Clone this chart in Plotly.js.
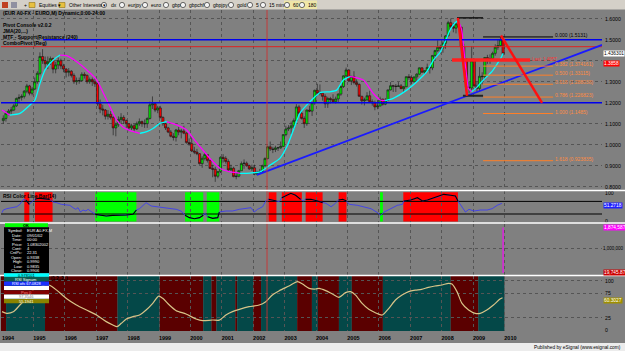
<!DOCTYPE html>
<html>
<head>
<meta charset="utf-8">
<script src="https://cdn.plot.ly/plotly-3.0.1.min.js"></script>
<style>html,body{margin:0;padding:0;background:#808080;overflow:hidden}</style>
</head>
<body>
<div id="chart" style="width:625px;height:351px"></div>
<script>
// ---------------- DATA ----------------
const years = [1994,1995,1996,1997,1998,1999,2000,2001,2002,2003,2004,2005,2006,2007,2008,2009,2010];
const firstYear = 1994; // monthly candles Jan 1994 .. Dec 2009

const openP = [
 1.115,1.125,1.150,1.160,1.165,1.185,1.220,1.225,1.230,1.255,1.280,1.245,
 1.265,1.300,1.340,1.420,1.400,1.385,1.395,1.410,1.360,1.380,1.400,1.375,
 1.360,1.345,1.350,1.330,1.300,1.305,1.305,1.335,1.330,1.300,1.310,1.300,
 1.290,1.195,1.170,1.165,1.135,1.145,1.130,1.080,1.095,1.120,1.130,1.115,
 1.100,1.080,1.090,1.075,1.100,1.110,1.100,1.100,1.125,1.190,1.195,1.165,
 1.175,1.130,1.100,1.080,1.060,1.040,1.035,1.070,1.060,1.065,1.055,1.010,
 1.005,0.970,0.965,0.957,0.910,0.935,0.953,0.925,0.887,0.883,0.850,0.872,
 0.940,0.935,0.920,0.880,0.888,0.848,0.850,0.876,0.910,0.912,0.900,0.885,
 0.890,0.860,0.868,0.872,0.900,0.934,0.990,0.980,0.977,0.985,0.985,0.992,
 1.048,1.075,1.080,1.090,1.115,1.180,1.150,1.125,1.100,1.165,1.160,1.200,
 1.259,1.245,1.245,1.230,1.195,1.220,1.215,1.205,1.218,1.241,1.277,1.328,
 1.356,1.304,1.325,1.296,1.287,1.231,1.209,1.213,1.233,1.205,1.199,1.180,
 1.184,1.217,1.193,1.211,1.261,1.281,1.279,1.277,1.280,1.267,1.276,1.324,
 1.320,1.300,1.323,1.336,1.366,1.345,1.353,1.368,1.366,1.425,1.448,1.464,
 1.460,1.483,1.518,1.581,1.562,1.555,1.575,1.560,1.467,1.408,1.274,1.270,
 1.400,1.280,1.268,1.326,1.324,1.415,1.403,1.410,1.435,1.464,1.472,1.500];
const closeP = [
 1.125,1.150,1.160,1.165,1.185,1.220,1.225,1.230,1.255,1.280,1.245,1.265,
 1.300,1.340,1.420,1.400,1.385,1.395,1.410,1.360,1.380,1.400,1.375,1.360,
 1.345,1.350,1.330,1.300,1.305,1.305,1.335,1.330,1.300,1.310,1.300,1.290,
 1.195,1.170,1.165,1.135,1.145,1.130,1.080,1.095,1.120,1.130,1.115,1.100,
 1.080,1.090,1.075,1.100,1.110,1.100,1.100,1.125,1.190,1.195,1.165,1.175,
 1.130,1.100,1.080,1.060,1.040,1.035,1.070,1.060,1.065,1.055,1.010,1.005,
 0.970,0.965,0.957,0.910,0.935,0.953,0.925,0.887,0.883,0.850,0.872,0.940,
 0.935,0.920,0.880,0.888,0.848,0.850,0.876,0.910,0.912,0.900,0.885,0.890,
 0.860,0.868,0.872,0.900,0.934,0.990,0.980,0.977,0.985,0.985,0.992,1.048,
 1.075,1.080,1.090,1.115,1.180,1.150,1.125,1.100,1.165,1.160,1.200,1.259,
 1.245,1.245,1.230,1.195,1.220,1.215,1.205,1.218,1.241,1.277,1.328,1.356,
 1.304,1.325,1.296,1.287,1.231,1.209,1.213,1.233,1.205,1.199,1.180,1.184,
 1.217,1.193,1.211,1.261,1.281,1.279,1.277,1.280,1.267,1.276,1.324,1.320,
 1.300,1.323,1.336,1.366,1.345,1.353,1.368,1.366,1.425,1.448,1.464,1.460,
 1.483,1.518,1.581,1.562,1.555,1.575,1.560,1.467,1.408,1.274,1.270,1.400,
 1.280,1.268,1.326,1.324,1.415,1.403,1.410,1.435,1.464,1.472,1.500,1.433];
const highP = [
 1.140,1.160,1.170,1.180,1.195,1.225,1.240,1.240,1.260,1.290,1.285,1.275,
 1.320,1.350,1.440,1.455,1.420,1.420,1.420,1.415,1.395,1.415,1.410,1.385,
 1.365,1.365,1.355,1.340,1.320,1.320,1.345,1.345,1.335,1.320,1.320,1.315,
 1.295,1.215,1.190,1.170,1.165,1.160,1.135,1.105,1.135,1.150,1.140,1.120,
 1.100,1.100,1.100,1.110,1.125,1.115,1.120,1.130,1.205,1.230,1.200,1.185,
 1.185,1.135,1.105,1.085,1.070,1.055,1.075,1.085,1.075,1.090,1.060,1.030,
 1.035,0.990,0.980,0.960,0.945,0.965,0.955,0.930,0.905,0.895,0.875,0.945,
 0.955,0.945,0.930,0.905,0.895,0.870,0.880,0.920,0.930,0.920,0.905,0.905,
 0.905,0.875,0.885,0.905,0.940,0.995,1.015,0.990,0.995,0.990,1.015,1.050,
 1.090,1.093,1.110,1.125,1.193,1.190,1.160,1.135,1.168,1.185,1.205,1.262,
 1.290,1.287,1.245,1.240,1.228,1.228,1.240,1.229,1.245,1.283,1.330,1.367,
 1.359,1.328,1.350,1.311,1.292,1.231,1.224,1.250,1.257,1.216,1.210,1.212,
 1.229,1.219,1.222,1.262,1.298,1.285,1.289,1.298,1.289,1.280,1.325,1.336,
 1.330,1.323,1.340,1.368,1.368,1.354,1.386,1.375,1.427,1.452,1.497,1.476,
 1.492,1.522,1.590,1.601,1.580,1.585,1.604,1.561,1.480,1.410,1.300,1.470,
 1.410,1.300,1.370,1.345,1.418,1.428,1.430,1.443,1.478,1.503,1.514,1.515];
const lowP = [
 1.100,1.110,1.140,1.145,1.160,1.180,1.200,1.210,1.220,1.245,1.235,1.235,
 1.260,1.290,1.330,1.385,1.360,1.360,1.380,1.340,1.340,1.360,1.360,1.345,
 1.320,1.325,1.320,1.290,1.285,1.290,1.300,1.315,1.290,1.290,1.280,1.275,
 1.185,1.150,1.140,1.120,1.120,1.120,1.045,1.040,1.085,1.100,1.100,1.080,
 1.065,1.070,1.060,1.070,1.090,1.085,1.080,1.080,1.120,1.170,1.155,1.150,
 1.125,1.090,1.070,1.055,1.035,1.020,1.015,1.045,1.030,1.050,1.005,0.995,
 0.965,0.955,0.950,0.905,0.890,0.925,0.915,0.885,0.845,0.823,0.840,0.865,
 0.915,0.910,0.875,0.875,0.845,0.835,0.845,0.875,0.885,0.895,0.880,0.875,
 0.855,0.855,0.860,0.870,0.895,0.930,0.970,0.960,0.965,0.970,0.980,0.990,
 1.040,1.065,1.050,1.075,1.115,1.140,1.120,1.080,1.090,1.155,1.137,1.190,
 1.236,1.235,1.210,1.175,1.175,1.196,1.198,1.196,1.203,1.233,1.270,1.318,
 1.298,1.284,1.287,1.277,1.228,1.191,1.187,1.210,1.200,1.186,1.164,1.169,
 1.183,1.186,1.188,1.207,1.258,1.251,1.251,1.276,1.265,1.248,1.274,1.309,
 1.288,1.296,1.304,1.333,1.343,1.332,1.349,1.339,1.355,1.404,1.441,1.434,
 1.438,1.457,1.516,1.555,1.535,1.530,1.550,1.464,1.390,1.233,1.245,1.260,
 1.277,1.252,1.255,1.288,1.310,1.385,1.385,1.400,1.424,1.452,1.468,1.426];

// JMA line, decimal years / price
const jmaT = [1994.00,1994.25,1994.57,1994.89,1995.05,1995.21,1995.37,1995.53,1995.69,1995.85,1996.06,1996.38,1996.70,1997.02,1997.23,1997.44,1997.65,1997.86,1998.08,1998.39,1998.61,1998.82,1999.03,1999.25,1999.56,1999.88,2000.09,2000.31,2000.62,2000.94,2001.26,2001.47,2001.58,2001.90,2002.22,2002.54,2002.85,2003.07,2003.28,2003.49,2003.81,2004.13,2004.45,2004.66,2004.87,2005.08,2005.24,2005.51,2005.82,2006.04,2006.20,2006.46,2006.89,2007.21,2007.53,2007.74,2007.95,2008.11,2008.27,2008.43,2008.53,2008.64,2008.69,2008.75,2008.80,2008.85,2008.96,2009.12,2009.28,2009.44,2009.60,2009.75,2009.91,2009.96];
const jmaV = [1.165,1.141,1.149,1.189,1.213,1.292,1.356,1.388,1.411,1.427,1.424,1.395,1.356,1.308,1.245,1.181,1.118,1.083,1.067,1.054,1.062,1.078,1.102,1.110,1.094,1.070,1.030,0.990,0.935,0.888,0.871,0.867,0.863,0.865,0.871,0.903,0.935,0.990,1.070,1.150,1.205,1.248,1.252,1.260,1.308,1.324,1.321,1.308,1.245,1.213,1.210,1.221,1.260,1.300,1.348,1.403,1.440,1.490,1.546,1.581,1.591,1.546,1.483,1.388,1.324,1.269,1.252,1.273,1.300,1.324,1.348,1.380,1.419,1.435];

// Price-panel drawing objects
const blueLevels = [1.5, 1.2];
const blueLevelStart = [1995.31, 1993.968];
const redLevel = 1.4667;
const cursorT = 2002.44;
const trendT = [2002.12, 2013.11];
const trendP = [0.856, 1.475];
const fibRatio = [0, 0.382, 0.5, 0.618, 0.786, 1.0, 1.618];
const fibPrice = [1.5131, 1.374161, 1.33115, 1.288038, 1.226823, 1.1485, 0.923835];
const fibT = [2009.32, 2011.55];
const swingHigh = 1.6038, swingLow = 1.2330;
const swingHighT = [2008.49, 2009.32], swingLowT = [2008.68, 2009.32];
const zigT = [2008.52, 2008.81, 2009.89, 2011.20];
const zigP = [1.6038, 1.2330, 1.5200, 1.1990];
const targetLevel = 1.4030, targetT = [2008.33, 2010.82];
const lastPrice = 1.436301, pivotPrice = 1.3858;

// RSI
const rsiT = [1994.00,1994.04,1994.15,1994.31,1994.47,1994.57,1994.68,1994.76,1994.87,1994.94,1995.05,1995.15,1995.31,1995.52,1995.63,1995.74,1995.89,1996.05,1996.16,1996.26,1996.35,1996.42,1996.50,1996.58,1996.67,1996.74,1996.85,1996.97,1997.11,1997.32,1997.53,1997.75,1997.96,1998.17,1998.28,1998.38,1998.59,1998.75,1998.91,1999.12,1999.33,1999.55,1999.70,1999.83,1999.97,2000.13,2000.29,2000.41,2000.47,2000.55,2000.71,2000.87,2000.92,2001.13,2001.34,2001.56,2001.77,2001.93,2002.03,2002.14,2002.30,2002.40,2002.49,2002.61,2002.74,2002.83,2002.91,2003.04,2003.20,2003.35,2003.51,2003.59,2003.67,2003.84,2004.05,2004.21,2004.32,2004.48,2004.58,2004.72,2004.85,2004.97,2005.06,2005.32,2005.53,2005.75,2005.96,2006.06,2006.17,2006.38,2006.59,2006.75,2006.80,2007.02,2007.23,2007.39,2007.55,2007.76,2007.92,2008.07,2008.29,2008.44,2008.52,2008.66,2008.76,2008.87,2009.03,2009.24,2009.45,2009.61,2009.77,2009.92];
const rsiV = [29.8,39.3,44,47.6,51,59.5,77.4,75,59.5,67.9,77.4,81,79.8,77.4,67.9,65.5,59.5,56,56,47.6,41.7,47.6,32,39.3,35.7,41.7,32,23.8,21.4,17.9,20.2,20.2,21.4,23.8,39.3,44,65.5,53.6,51,47.6,44,41.7,35.7,20.2,12,8.3,12,20.2,27.4,15.5,9.5,12,32,35.7,35.7,41.7,44,47.6,32,41.7,51,71.4,77.4,75,71.4,69,83.3,89,98.8,91.7,77.4,71.4,77.4,77.4,71.4,65.5,63,51,59.5,75,77.4,71.4,59.5,56,51,44,29.8,20.2,32,44,56,59.5,71.4,75,83.3,71.4,75,83.3,86.9,95.2,91.7,89.3,71.4,47.6,32,41.7,35.7,39.3,39.3,44,56,63];
const rsiLevels = [70, 25];
const zoneStart = [1994.71,1995.05,1996.97,1999.83,2000.52,2002.49,2002.91,2003.67,2004.72,2006.04,2006.78];
const zoneEnd   = [1994.87,1995.61,1998.28,2000.41,2000.92,2002.74,2003.55,2004.21,2004.97,2006.13,2008.52];
const zoneType  = ['ob','ob','os','os','os','ob','ob','ob','ob','os','ob'];

// Volume
const volT = [2009.958];
const volV = [1874587];

// Bottom oscillator
const oscT = [1994.00,1994.15,1994.36,1994.57,1994.78,1994.99,1995.21,1995.37,1995.52,1995.74,1996.05,1996.37,1996.69,1997.01,1997.32,1997.53,1997.66,1997.80,1997.96,1998.17,1998.38,1998.59,1998.80,1998.99,1999.12,1999.33,1999.55,1999.86,2000.18,2000.39,2000.71,2000.92,2001.13,2001.34,2001.56,2001.87,2002.19,2002.40,2002.61,2002.83,2003.14,2003.41,2003.57,2003.78,2003.99,2004.10,2004.31,2004.52,2004.73,2004.94,2005.10,2005.26,2005.47,2005.68,2005.89,2006.11,2006.32,2006.53,2006.74,2006.95,2007.16,2007.36,2007.58,2007.79,2008.01,2008.22,2008.33,2008.49,2008.65,2008.86,2009.07,2009.23,2009.44,2009.65,2009.86,2009.94];
const oscV = [37.3,33.9,37,50.8,64.4,81,88,91.5,91,81,64,50.8,40.6,30.5,17,10.2,6.8,13.6,22.4,27.1,30.5,40.6,54.2,69,64.4,50.8,39.3,32.5,22.4,19,20.3,20,30.5,37.3,42,47.4,50.8,57.6,71.1,79.9,89.4,98.2,93.5,84.7,83.3,84.7,80,73.2,66.4,75.9,78,71,54,42,35.2,30.5,44,61,71,78,81,82.6,86.7,89.4,91.5,94.9,93.5,78,54,40.6,33.9,33.9,40.6,50.8,63,65.7];
const oscLast = 60.3027;
const bandEdges = [1993.968,1994.13,1995.37,1997.68,1999.02,2000.41,2000.67,2000.83,2001.43,2001.49,2002.00,2002.25,2003.40,2003.87,2004.06,2004.73,2005.14,2006.13,2008.29,2009.17,2010.00];
const bandDir = ['down','up','down','up','down','up','down','up','down','up','down','up','down','up','down','up','down','up','down','up'];

const priceTicks = [0.8,0.9,1.0,1.1,1.2,1.3,1.4,1.5,1.6];
const infoLabels = ['Symbol','Date','Time','Price','Cont','CntPc','Open','High','Low','Close'];
const infoValues = ['EUR A0-FX,M','09/01/02','00:00','1.08302002','4','22.31','0.9338','0.9990','0.9835','0.9906'];

// ---------------- LAYOUT HELPERS ----------------
const FONT = 'Liberation Sans, Arial, sans-serif';
const PX_L = 1, PX_R = 602, PX_T = 10, PX_B = 331;
const px2p = px => (px - PX_L) / (PX_R - PX_L);
const py2p = py => (PX_B - py) / (PX_B - PX_T);
const X_RANGE = [1993.968, 2013.108];

const tMonth = closeP.map((_, i) => firstYear + (i + 0.5) / 12);

const traces = [];
traces.push({type:'candlestick', x:tMonth, open:openP, high:highP, low:lowP, close:closeP,
  xaxis:'x', yaxis:'y', whiskerwidth:0, hoverinfo:'skip', showlegend:false,
  increasing:{line:{color:'#151515', width:0.6}, fillcolor:'#00ee00'},
  decreasing:{line:{color:'#151515', width:0.6}, fillcolor:'#ff0000'}});

// JMA coloured by direction
const seg = [];
for (let i = 0; i < jmaT.length - 1; i++) seg.push(jmaV[i+1] >= jmaV[i]);
let s0 = 0;
for (let i = 1; i <= seg.length; i++) {
  if (i === seg.length || seg[i] !== seg[s0]) {
    traces.push({type:'scatter', mode:'lines', x:jmaT.slice(s0, i+1), y:jmaV.slice(s0, i+1),
      xaxis:'x', yaxis:'y', hoverinfo:'skip', showlegend:false,
      line:{color: seg[s0] ? '#00ffff' : '#ff00ff', width:1.3, shape:'spline', smoothing:0.6}});
    s0 = i;
  }
}

// RSI
traces.push({type:'scatter', mode:'lines', x:rsiT, y:rsiV, xaxis:'x', yaxis:'y2',
  line:{color:'#3535ff', width:0.8}, hoverinfo:'skip', showlegend:false});
const inZone = t => zoneStart.some((z, k) => t >= z - 0.02 && t <= zoneEnd[k] + 0.02);
traces.push({type:'scatter', mode:'lines', x:rsiT, y:rsiV.map((v, i) => inZone(rsiT[i]) ? v : null),
  xaxis:'x', yaxis:'y2', line:{color:'#000000', width:1.1}, connectgaps:false, hoverinfo:'skip', showlegend:false});

// Volume
traces.push({type:'bar', x:volT, y:volV, width:[0.035], marker:{color:'#ff00ff', line:{width:0}},
  xaxis:'x', yaxis:'y3', hoverinfo:'skip', showlegend:false});

// Oscillator
traces.push({type:'scatter', mode:'lines', x:oscT, y:oscV, xaxis:'x', yaxis:'y4',
  line:{color:'#d8c488', width:1.2, shape:'spline', smoothing:0.7}, hoverinfo:'skip', showlegend:false});

// ---------------- SHAPES ----------------
const shapes = [];
const rectPx = (x0, y0, x1, y1, fill, lineColor, lw) => ({type:'rect', xref:'paper', yref:'paper',
  x0:px2p(x0), x1:px2p(x1), y0:py2p(y1), y1:py2p(y0), fillcolor:fill,
  line:{color:lineColor || fill, width: lw || 0}, layer:'above'});
const lineXY = (x0, y0, x1, y1, color, width, yref, layer, dash) => ({type:'line', xref:'x', yref:yref || 'y',
  x0, y0, x1, y1, line:{color, width, dash: dash || 'solid'}, layer: layer || 'above'});

// oscillator bands
for (let k = 0; k < bandDir.length; k++) {
  shapes.push({type:'rect', xref:'x', yref:'y4 domain', x0:bandEdges[k], x1:bandEdges[k+1], y0:0, y1:1,
    fillcolor: bandDir[k] === 'up' ? '#044848' : '#5a0000', line:{width:0}, layer:'below'});
}
// RSI zones
for (let k = 0; k < zoneStart.length; k++) {
  shapes.push({type:'rect', xref:'x', yref:'y2 domain', x0:zoneStart[k], x1:zoneEnd[k], y0:0.03, y1:0.96,
    fillcolor: zoneType[k] === 'ob' ? '#ff0000' : '#00ff00', line:{width:0}, layer:'below'});
}
rsiLevels.forEach(l => shapes.push(lineXY(X_RANGE[0], l, X_RANGE[1], l, '#000000', 1, 'y2', 'between')));

// price levels
blueLevels.forEach((l, k) => shapes.push(lineXY(blueLevelStart[k], l, X_RANGE[1], l, '#0000ee', 1.6)));
shapes.push(lineXY(X_RANGE[0], redLevel, X_RANGE[1], redLevel, '#e02020', 1));
shapes.push(lineXY(trendT[0], trendP[0], trendT[1], trendP[1], '#1a1aff', 1.8));
fibPrice.forEach((p, k) => shapes.push(lineXY(fibT[0], p, fibT[1], p, k === 0 ? '#000000' : '#ff7f27', 1)));
shapes.push(lineXY(swingHighT[0], swingHigh, swingHighT[1], swingHigh, '#000000', 1.2));
shapes.push(lineXY(swingLowT[0], swingLow, swingLowT[1], swingLow, '#222222', 1.8));
shapes.push(lineXY(targetT[0], targetLevel, targetT[1], targetLevel, '#ff2020', 3.5));
shapes.push(lineXY(zigT[0], zigP[0], zigT[1], zigP[1], '#ff1010', 2.5));
shapes.push(lineXY(zigT[2], zigP[2], zigT[3], zigP[3], '#ff1010', 2.5));
// cursor
shapes.push({type:'line', xref:'x', yref:'paper', x0:cursorT, x1:cursorT, y0:0, y1:1,
  line:{color:'#d03030', width:1}, opacity:0.85, layer:'above'});

// separators, toolbar, bottom strip
[190.5, 223, 275.5].forEach(py => shapes.push({type:'line', xref:'paper', yref:'paper',
  x0:-0.01, x1:1.05, y0:py2p(py), y1:py2p(py), line:{color:'#ffffff', width:1.5}, layer:'above'}));
shapes.push(rectPx(-2, -1, 627, 9.5, '#d4d0c8'));
shapes.push(rectPx(-2, 343, 627, 352, '#ececec'));
shapes.push(rectPx(284, 0.5, 300, 9, '#efe6a8'));
shapes.push(rectPx(300, 0.5, 317, 9, '#efe6a8'));
// toolbar icons
shapes.push(rectPx(2, 2, 8, 8, '#c04020'));
shapes.push(rectPx(11, 2, 17, 8, '#9090a0'));
shapes.push(rectPx(29, 2.5, 35, 7.5, '#e8c040', '#806000', 0.5));
shapes.push(rectPx(59, 2.5, 65, 7.5, '#e8c040', '#806000', 0.5));
[104, 122, 145, 166, 183, 207, 231, 250, 263, 287, 302].forEach(cx => shapes.push({type:'circle', xref:'paper', yref:'paper',
  x0:px2p(cx-2.6), x1:px2p(cx+2.6), y0:py2p(7.6), y1:py2p(2.4), line:{color:'#303030', width:0.7}, fillcolor:'#f4f4f4', layer:'above'}));

// info box
shapes.push(rectPx(5, 223.3, 48, 227.3, '#00ff00'));
shapes.push(rectPx(4, 227.3, 49, 273.3, '#000000'));
shapes.push(rectPx(4, 273.3, 49, 276.8, '#00ffff'));
shapes.push(rectPx(4, 277, 49, 281.2, '#0a5a50'));
shapes.push(rectPx(4, 281.4, 49, 285.7, '#1a30ff'));
shapes.push(rectPx(4, 285.9, 49, 290, '#ffffff'));
shapes.push(rectPx(4, 290.2, 49, 294.4, '#800000'));
shapes.push(rectPx(4, 294.6, 49, 298.8, '#ffffff'));
shapes.push(rectPx(4, 299, 49, 303.2, '#8a8400'));

// ---------------- ANNOTATIONS ----------------
const ann = [];
const annPx = (x, y, text, size, color, anchor, bold) => ({xref:'paper', yref:'paper', x:px2p(x), y:py2p(y),
  text: bold ? '<b>' + text + '</b>' : text, showarrow:false, xanchor: anchor || 'left', yanchor:'middle',
  font:{family:FONT, size:size, color:color}});
const titleLines = [['(EUR A0-FX - EURO,M) Dynamic,0:00-24:00', 12.7], ['Pivot Console v2.0.2', 25], ['JMA(20,...)', 30.7],
  ['MTF - Support/Resistance (240)', 36.7], ['ComboPivot (Reg)', 42.7]];
titleLines.forEach(([t, y]) => ann.push(annPx(1, y, t, 5, '#000000', 'left', true)));
ann.push(annPx(1, 196, 'RSI Color Line Bar(14)', 5, '#000000', 'left', true));
ann.push(annPx(49, 278, '(1,2,,2,,)', 4.5, '#000000', 'left', true));

// fib labels
fibPrice.forEach((p, k) => ann.push({xref:'x', yref:'y', x:fibT[1], y:p, xanchor:'left', yanchor:'middle', yshift:2,
  showarrow:false, text: fibRatio[k].toFixed(3) + ' (' + p + ')', font:{family:FONT, size:5, color: k === 0 ? '#000000' : '#ff8c40'}}));
ann.push({xref:'x', yref:'y', x:targetT[1], y:targetLevel, xanchor:'left', yanchor:'middle', yshift:1, showarrow:false,
  text:'Last: ' + '1.4057', font:{family:FONT, size:4.5, color:'#ff3030'}});

// right axis value boxes
const axisBox = (yref, y, text, bg, fg) => ({xref:'paper', x:1, xanchor:'left', xshift:0.5, yref, y, yanchor:'middle',
  text, showarrow:false, bgcolor:bg, borderpad:0, font:{family:FONT, size:4.8, color:fg}});
ann.push(axisBox('y', lastPrice, String(lastPrice), '#ffffff', '#000000'));
ann.push(axisBox('y', pivotPrice, String(pivotPrice), '#ff0000', '#ffffff'));
ann.push(axisBox('y2', 57, '51.2718', '#2020ff', '#ffffff'));
ann.push(axisBox('y3', volV[0], '1,874,587', '#ff00ff', '#ffffff'));
ann.push(axisBox('y3', 19745.87, '19,745.87', '#cc0000', '#ffffff'));
ann.push(axisBox('y4', oscLast, String(oscLast), '#a09000', '#ffffff'));

// info box text
ann.push(annPx(26.5, 225.3, 'OK', 4, '#000000', 'center', true));
infoLabels.forEach((l, k) => {
  const y = 230.7 + k * 4.45;
  ann.push(annPx(23.5, y, l + ':', 4, '#ffffff', 'right'));
  ann.push(annPx(24.5, y, infoValues[k], 4, '#ffffff', 'left'));
});
ann.push(annPx(26.5, 275, '0.978101', 4, '#000000', 'center'));
ann.push(annPx(26.5, 279.1, 'RSI Signum', 4, '#ffffff', 'center'));
ann.push(annPx(26.5, 283.5, 'RSI ofs 67.0828', 4, '#ffffff', 'center'));
ann.push(annPx(26.5, 292.3, 'Pos 0', 4, '#ff8080', 'center'));
ann.push(annPx(26.5, 296.7, '97.3546', 4, '#808080', 'center'));
ann.push(annPx(26.5, 301.1, '55.1941', 4, '#ffffff', 'center'));

// toolbar text
[['+', 22], ['Equities \u25be', 37], ['Other Interests \u25be', 67], ['dx', 109], ['eurjpy', 126], ['euro', 149],
 ['gbp', 170], ['gbpchf', 187], ['gbpjpy', 211], ['gold', 235], ['5', 254], ['15 min', 267], ['60', 291], ['180', 306]]
 .forEach(([t, x]) => ann.push(annPx(x, 5, t, 5, '#000000', 'left')));
ann.push(annPx(623, 347.5, 'Published by eSignal (www.esignal.com)', 4.8, '#000000', 'right'));

// ---------------- AXES ----------------
const baseY = {side:'right', anchor:'x', ticks:'', showline:false, zeroline:false, fixedrange:true,
  tickfont:{family:FONT, size:5.2, color:'#000000'}, ticklabelstandoff:2,
  gridcolor:'#555555', griddash:'dot', gridwidth:1};
const layout = {
  width:625, height:351, margin:{l:1, r:23, t:10, b:20, pad:0},
  paper_bgcolor:'#808080', plot_bgcolor:'rgba(0,0,0,0)', showlegend:false, hovermode:false,
  boxgap:0.1, boxgroupgap:0.1,
  xaxis:{domain:[0,1], range:X_RANGE, anchor:'y4', tickmode:'array', tickvals:years, ticktext:years.map(String),
    tickfont:{family:FONT, size:5.5, color:'#000000', weight:'bold'}, ticks:'', ticklabelshift:6, ticklabelstandoff:2,
    showgrid:true, gridcolor:'#555555', griddash:'dot', gridwidth:1, zeroline:false, showline:false,
    rangeslider:{visible:false}, fixedrange:true},
  yaxis: Object.assign({}, baseY, {domain:[py2p(190.5), 1], range:[0.7819, 1.6414], tickmode:'array',
    tickvals:priceTicks, ticktext:priceTicks.map(v => v === 1.4 ? '' : v.toFixed(4)), showgrid:true}),
  yaxis2: Object.assign({}, baseY, {domain:[py2p(222.5), py2p(191)], range:[-5.36, 107.14], tickmode:'array',
    tickvals:[0, 100], ticktext:['0', '100'], showgrid:false}),
  yaxis3: Object.assign({}, baseY, {domain:[py2p(275), py2p(223.5)], range:[-83304, 2039467], tickmode:'array',
    tickvals:[1000000], ticktext:['1,000,000'], showgrid:true, ticklabelstandoff:0.5,
    tickfont:{family:FONT, size:4.5, color:'#000000'}}),
  yaxis4: Object.assign({}, baseY, {domain:[0, py2p(276)], range:[-2.03, 109.76], tickmode:'array',
    tickvals:[0, 25, 75, 100], ticktext:['0', '25', '75', '100'], showgrid:true}),
  shapes, annotations: ann
};
Plotly.newPlot('chart', traces, layout, {staticPlot:true, displayModeBar:false});
</script>
</body>
</html>
